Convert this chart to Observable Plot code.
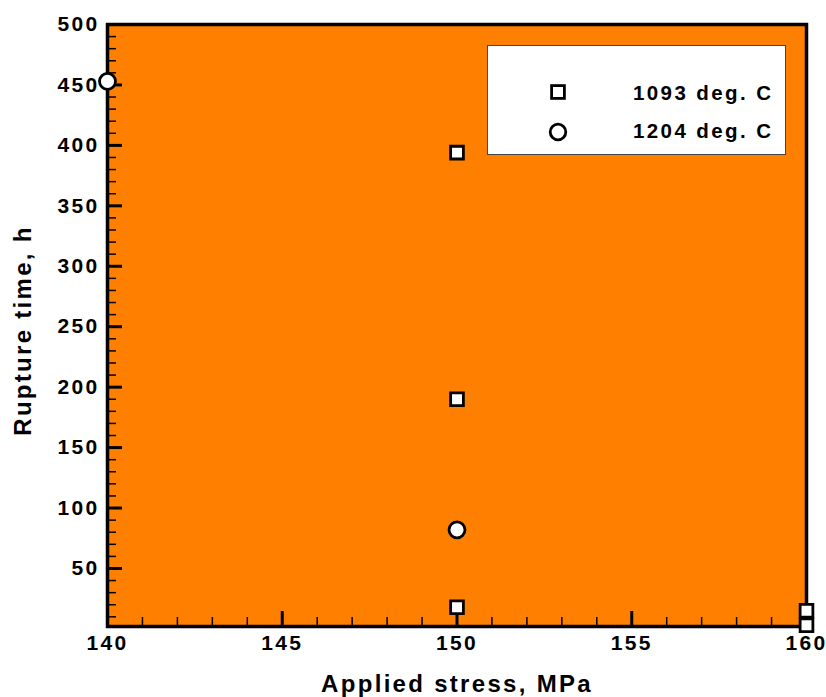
<!DOCTYPE html>
<html>
<head>
<meta charset="utf-8">
<script src="https://cdn.jsdelivr.net/npm/d3@7"></script>
<script src="https://cdn.jsdelivr.net/npm/@observablehq/plot@0.6"></script>
<style>
  html, body { margin: 0; padding: 0; background: #fff; }
  #wrap { position: relative; width: 826px; height: 697px; font-family: "Liberation Sans", Arial, sans-serif; }
  #wrap svg text { letter-spacing: 2.3px; }
  #legend { position: absolute; left: 487px; top: 45px; width: 299px; height: 110px; background: #fff; border: 1px solid #444; box-sizing: border-box; }
  #legend svg { position: absolute; left: 0; top: 0; }
  .lg { position: absolute; left: 145px; font: bold 20.5px "Liberation Sans", Arial, sans-serif; letter-spacing: 2.4px; color: #000; white-space: nowrap; }
</style>
</head>
<body>
<div id="wrap"></div>
<script>
// Data
const stress1093 = [150, 150, 150, 160, 160];
const time1093 = [394, 190, 18, 15, 3];
const stress1204 = [140, 150];
const time1204 = [453, 82];
const seriesNames = ["1093 deg. C", "1204 deg. C"];
const xMajor = [140, 145, 150, 155, 160];
const xMinor = d3.range(140, 161, 1);
const yMajor = [50, 100, 150, 200, 250, 300, 350, 400, 450, 500];
const yMinor = d3.range(10, 501, 10);

const pts1093 = stress1093.map((s, i) => ({stress: s, time: time1093[i]}));
const pts1204 = stress1204.map((s, i) => ({stress: s, time: time1204[i]}));

const font = {fontSize: 21, fontWeight: "bold", fontFamily: "Liberation Sans, Arial, sans-serif"};

const chart = Plot.plot({
  width: 826,
  height: 697,
  marginLeft: 107,
  marginRight: 20,
  marginTop: 24,
  marginBottom: 71,
  x: {domain: [140, 160]},
  y: {domain: [2, 500]},
  style: {background: "transparent", overflow: "visible"},
  marks: [
    Plot.frame({fill: "#ff8000"}),
    // minor ticks (inward)
    Plot.axisX({ticks: xMinor, tickSize: -9, text: null, label: null, stroke: "#000", strokeWidth: 1.5, anchor: "bottom"}),
    Plot.axisY({ticks: yMinor, tickSize: -9, text: null, label: null, stroke: "#000", strokeWidth: 1.5, anchor: "left"}),
    // major ticks (inward)
    Plot.axisX({ticks: xMajor, tickSize: -15, text: null, label: null, stroke: "#000", strokeWidth: 3, anchor: "bottom"}),
    Plot.axisY({ticks: yMajor, tickSize: -15, text: null, label: null, stroke: "#000", strokeWidth: 3, anchor: "left"}),
    // tick labels
    Plot.axisX({ticks: xMajor, tickSize: 0, tickPadding: 9, anchor: "bottom", label: null, ...font, fill: "#000"}),
    Plot.axisY({ticks: yMajor, tickSize: 0, tickPadding: 8, anchor: "left", label: null, ...font, fill: "#000"}),
    Plot.frame({stroke: "#000", strokeWidth: 3.5}),
    // data
    Plot.dot(pts1093, {x: "stress", y: "time", symbol: "square", r: 7.2, fill: "#fff", stroke: "#000", strokeWidth: 2.8}),
    Plot.dot(pts1204, {x: "stress", y: "time", symbol: "circle", r: 8, fill: "#fff", stroke: "#000", strokeWidth: 2.8}),
    // axis titles
    Plot.text(["Applied stress, MPa"], {frameAnchor: "bottom", dy: 58, text: d => d, textAnchor: "middle", lineAnchor: "middle", fontSize: 24, fontWeight: "bold", fontFamily: "Liberation Sans, Arial, sans-serif", fill: "#000"}),
    Plot.text(["Rupture time, h"], {frameAnchor: "left", dx: -84, dy: 5, rotate: -90, text: d => d, textAnchor: "middle", lineAnchor: "middle", fontSize: 24, fontWeight: "bold", fontFamily: "Liberation Sans, Arial, sans-serif", fill: "#000"})
  ]
});

const wrap = document.getElementById("wrap");
wrap.appendChild(chart);

// Legend inside plot area
const legend = document.createElement("div");
legend.id = "legend";
legend.innerHTML = `
<svg width="299" height="110">
  <rect x="${70 - 6.4}" y="${46 - 6.4}" width="12.8" height="12.8" fill="#fff" stroke="#000" stroke-width="2.8"/>
  <circle cx="70" cy="86" r="7.8" fill="#fff" stroke="#000" stroke-width="2.8"/>
</svg>
<div class="lg" style="top:35px">${seriesNames[0]}</div>
<div class="lg" style="top:73px">${seriesNames[1]}</div>`;
wrap.appendChild(legend);
</script>
</body>
</html>
